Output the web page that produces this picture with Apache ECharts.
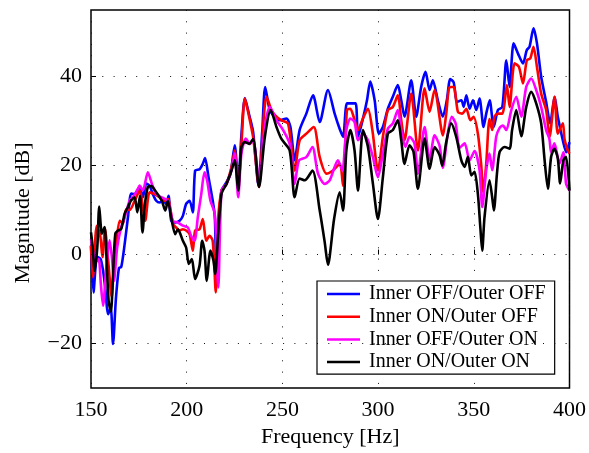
<!DOCTYPE html>
<html>
<head>
<meta charset="utf-8">
<script src="https://cdn.jsdelivr.net/npm/echarts@6/dist/echarts.min.js"></script>
<style>
  html, body { margin: 0; padding: 0; background: #fff; }
  #chart { width: 589px; height: 453px; }
</style>
</head>
<body>
<div id="chart"></div>
<script>
// frequency [Hz] / magnitude [dB], one pair per curve
var blueFreq = [150, 151.3, 153.2, 155, 156.3, 157.3, 159, 160.3, 161.5, 163, 164.6, 165.8, 167.6, 169.3, 171, 172.8, 174.5, 175.4, 177.1, 178.9, 180.6, 182.3, 184.1, 185.8, 187.6, 189.3, 190.5, 191.9, 194, 196.3, 198, 199.7, 201.5, 203.2, 204.4, 206.7, 208.4, 209.6, 211.4, 213.6, 214.7, 215.5, 216.5, 218.2, 220.8, 222.9, 225.1, 226.9, 228.6, 230.4, 232.6, 234.7, 237.5, 239.5, 241, 243.4, 246, 248.6, 252.1, 254.2, 256.4, 259, 262.5, 266, 269.5, 273.8, 277.3, 279.9, 281.7, 283.7, 286, 288.3, 289.5, 292.1, 294.2, 295.9, 298.2, 300.4, 302.5, 305.1, 307.7, 310.3, 312.1, 313.8, 317.3, 319.9, 322.5, 324.8, 326.9, 328.6, 331.2, 333.8, 335.9, 337.7, 339.5, 341.2, 343.5, 344.7, 346.1, 347.8, 349.6, 351.3, 353, 355.1, 356.5, 358.3, 360.4, 362.6, 364.9, 367, 368.7, 370.8, 373.1, 375.7, 377.7, 379.1, 381.2, 383, 385.2, 387.8, 389.9, 392.2, 393.9, 396.5, 398.3, 400];
var blueMag = [2, -8.5, -0.5, -1, -3.6, -7, -13.4, -11.9, -20.1, -10, -3, -2.8, 2.4, 8.4, 13.7, 13.6, 14.6, 15.1, 12.9, 16, 15.5, 13.6, 12.1, 11.7, 12.1, 11.4, 13.2, 7.6, 7.2, 7.6, 8.7, 11.4, 12.1, 9.5, 18.9, 19.2, 20.4, 21.7, 17.4, 12.1, 8.4, -4, 6, 14.4, 16.3, 18.2, 24.6, 16, 27, 35.2, 31.5, 27.6, 15.5, 28, 37.7, 32.5, 31, 30.2, 30.6, 28.7, 21.2, 28, 31.7, 35.8, 29.8, 37, 31.7, 28.3, 26.5, 34, 34, 34, 26.5, 30.6, 34.7, 38.9, 34.7, 27.2, 28.7, 32.8, 35.5, 38.1, 34.7, 31, 39.2, 31, 37.7, 41.1, 37, 39.2, 34.7, 31, 34.7, 39.5, 38.7, 34.3, 34.7, 33.2, 35.8, 32.8, 34.7, 32.5, 35.1, 28.7, 31.7, 34.7, 28.7, 32.5, 33.2, 43.7, 37.7, 47.5, 45.2, 43, 46, 46.7, 50.9, 47.5, 40, 34.3, 29.5, 35.5, 31, 25.7, 23, 25.3];

var redFreq = [150, 151, 153, 154.8, 156, 157.3, 159, 160.8, 161.8, 163.2, 165, 166.7, 168.4, 170.2, 172.8, 175.4, 178.3, 180.6, 183.2, 185.8, 188.4, 190.2, 192.8, 194.5, 196.3, 198, 199.7, 201.5, 203.2, 204.4, 206.7, 208.4, 210.2, 211.9, 213.6, 215.2, 216.4, 218.2, 220.8, 223.4, 225.1, 226.9, 228.6, 230.4, 232.6, 234.7, 237.8, 239.9, 241.7, 244.3, 246.9, 249.5, 253, 256.4, 259, 262.5, 266.4, 269.5, 273, 276.4, 279.9, 281.7, 283.7, 285.5, 287.2, 289.5, 291.7, 294.7, 297, 299.9, 302.5, 305.1, 307.7, 310.3, 312.1, 313.8, 317.3, 320.8, 324.3, 326.9, 329.5, 333.9, 335.6, 337.4, 339.5, 341.7, 344, 346.1, 348.2, 349.9, 352.2, 353.9, 355, 356.5, 358.2, 359.6, 360.8, 362.6, 364.9, 367.3, 368.7, 371.3, 373.6, 375.7, 377.7, 379.5, 381.2, 383, 385.2, 387.8, 389.6, 392.2, 393.9, 396.5, 397.4, 399.1, 400];
var redMag = [2, -5.1, 6.5, 4.3, -0.6, 5.8, -1.5, -9.5, -4, 2.4, 7.6, 7, 10.2, 10, 12.1, 14.4, 7.6, 14, 13.6, 12.9, 12.1, 12.5, 6.9, 6.1, 5.4, 5.7, 5.4, 4.6, 0.9, 5.4, 5.7, 8, 3.1, 4.2, 3.1, -8.5, 7.6, 14.4, 15.9, 19.7, 23.4, 15.2, 25, 35.1, 31, 26.4, 15.2, 28.7, 35.5, 32.5, 31, 30.2, 29.4, 18.9, 25.7, 27.2, 28.7, 21.9, 18.2, 18.9, 20.4, 15.5, 32.5, 32.8, 31, 28, 30.2, 32.8, 28, 18.9, 26.5, 32.5, 33.2, 35.8, 30.2, 25.7, 36.2, 23.4, 37.4, 32.1, 37, 26.8, 31.7, 37.7, 37.7, 32.1, 31.7, 32.8, 30.2, 31, 27, 20, 14, 20.5, 30.5, 28, 31, 31.7, 31.7, 38.1, 33.2, 43, 42.2, 38.5, 43.7, 44.1, 46.7, 42.2, 36.2, 32.5, 26.5, 35.5, 27.2, 29.5, 26, 23.4, 22.7];

var magentaFreq = [150, 151, 152.5, 154, 155.2, 156.3, 158, 159.7, 161, 162, 163.7, 165.8, 168.4, 170.2, 171.9, 174.5, 175.4, 177.1, 179.7, 181.8, 184.1, 186.7, 190.2, 192.8, 195.4, 198, 200.6, 202.3, 204.1, 205.8, 207.6, 209.3, 210.7, 212.4, 214.5, 215.3, 216.5, 218.2, 220.8, 223.4, 225.1, 226.9, 228.6, 230.9, 233, 234.7, 237.8, 240.8, 243.4, 246.9, 250.4, 253.8, 256.4, 258.7, 262.5, 265.7, 268.6, 272.1, 274.7, 277.3, 279, 281.3, 283.4, 285.5, 287.7, 289.5, 292.1, 294.7, 297.3, 299.9, 302.5, 305.1, 307.7, 310.3, 312.1, 314.3, 316.4, 319, 320.8, 324.3, 326.9, 329.5, 332.1, 333.8, 336.4, 338.5, 340.5, 342.6, 345.2, 347.8, 350.4, 353, 354.4, 356.5, 358.2, 359.6, 361.7, 363.5, 365.2, 367, 369.6, 372.2, 374.8, 377.4, 380, 382.6, 385.2, 387.8, 389.5, 390.4, 392.1, 394.8, 396.8, 398.2, 400];
var magentaMag = [3.5, 0.9, -1.5, -1, -7, -11.5, -2.8, 3.2, -1, -5.9, 1.7, 6.2, 9.5, 12.2, 12.9, 14.8, 15.5, 14.4, 18.5, 15.9, 13.6, 12.9, 12.1, 7.6, 7.2, 6.5, 6.1, 4.2, 3.1, 8.4, 13.6, 18.5, 16.6, 12.1, 9.5, 5, -7.4, 14.4, 15.9, 19, 22.7, 12.9, 22.7, 26.1, 24.9, 25.7, 16.7, 28.7, 33.2, 30.2, 28, 24.9, 15.9, 21.2, 21.9, 24.2, 18.2, 15.9, 16.7, 19.7, 21.2, 18.9, 28, 30.6, 29.8, 25.7, 27.2, 25.7, 21.9, 17.4, 22.7, 28.3, 29.5, 32.5, 28, 24.2, 26.5, 25, 18.2, 28.7, 21.2, 26.8, 24.5, 19.5, 27.2, 31, 29.5, 24, 25, 21.2, 23.3, 19, 10.7, 19, 22.7, 19, 26.5, 28.5, 29, 28, 32.5, 35.5, 31, 37.7, 39.6, 37, 33.2, 28, 26, 23, 25, 20.5, 23, 16, 14.4];

var blackFreq = [150, 150.8, 151.9, 153.3, 154.3, 155.7, 157.1, 158, 159.2, 160.4, 161.5, 162.7, 164.1, 165.8, 167.6, 169.3, 171, 172.8, 174.2, 175.6, 176.9, 178.2, 179.7, 181.5, 184.1, 187, 188.8, 190.2, 191.9, 194, 195.4, 198, 199.7, 201.1, 202.7, 204.4, 206.7, 208.1, 209.3, 210.5, 212.4, 214, 214.9, 216.5, 218.2, 220.8, 223.4, 225.1, 226.9, 228.6, 230.4, 232.6, 234.7, 237.8, 240.8, 243.9, 246.9, 249.5, 253.8, 256.4, 259, 261.7, 265.7, 269.5, 272.1, 273.8, 277, 279.9, 281.7, 283.4, 285.5, 287.7, 289.5, 292.1, 294.7, 297.3, 299.9, 302.5, 305.1, 307.7, 310.3, 312.1, 313.8, 316.4, 318.5, 320.8, 324.3, 326.9, 329.5, 332.1, 333.5, 335.6, 338.2, 340.8, 343.5, 345.2, 346.9, 348.7, 350.4, 352.2, 353.4, 354.4, 355.6, 358.2, 359.6, 360.5, 362.1, 363.5, 366.1, 368.7, 370, 372.2, 374.8, 377.4, 380, 382.6, 385.2, 387, 388.7, 390.4, 392.1, 393.9, 395.1, 396.8, 398.2, 400];
var blackMag = [5, 2, -3.6, 1.7, 10.8, 4.7, 6.2, 0.2, -10.4, -12.8, -4.4, 4.7, 5.4, 5.8, 9.2, 10.7, 12.2, 12.9, 9.5, 13.2, 5, 11.4, 15.2, 15.4, 14, 12.1, 9.9, 12.1, 8.4, 4.6, 5.7, 3.1, 1.6, -2.1, -1, -5.5, -2.5, 3.1, 0.9, -5.9, 0.9, -1.4, -4.4, 5, 13.7, 15.9, 18.9, 21.2, 14.4, 24.2, 25.3, 24.9, 26, 15.2, 26.4, 32.5, 28.7, 26, 23.4, 12.9, 17.1, 16.7, 18.9, 9.9, 2.8, -2.3, 8, 14, 9.9, 23.4, 28, 23.4, 14.4, 28, 24.2, 15.9, 8, 17.4, 27.2, 28, 30.2, 25.7, 20.4, 24.6, 23.1, 14.8, 26.1, 19.3, 24.2, 22.4, 20, 25.3, 29.5, 26.5, 21.2, 19.7, 22, 17.8, 18.6, 13.3, 6.2, 0.9, 8.4, 16.7, 12.9, 9.9, 18.2, 23.1, 24.2, 23.8, 28, 32.5, 26.6, 33.2, 36.6, 34, 29.5, 21.2, 14.8, 22, 23.8, 21.6, 16, 21.2, 22, 14.4];

var seriesNames = ['Inner OFF/Outer OFF', 'Inner ON/Outer OFF', 'Inner OFF/Outer ON', 'Inner ON/Outer ON'];
var yTicks = [-20, 0, 20, 40];
var xTicks = [150, 200, 250, 300, 350, 400];

function pairs(fs, ms) {
    return fs.map(function (f, i) { return [f, ms[i]]; });
}

var chart = echarts.init(document.getElementById('chart'));
var font = 'Liberation Serif';

function curve(name, color, fs, ms, extra) {
    var s = {
        name: name,
        type: 'line',
        data: pairs(fs, ms),
        symbol: 'none',
        smooth: 0.25,
        animation: false,
        lineStyle: { color: color, width: 2.6 },
        itemStyle: { color: color }
    };
    if (extra) Object.assign(s, extra);
    return s;
}

var option = {
    backgroundColor: '#ffffff',
    textStyle: { fontFamily: font },
    grid: {
        left: 91, right: 19, top: 10, bottom: 65,
        show: true, borderColor: '#000', borderWidth: 1.5, backgroundColor: '#fff'
    },
    legend: {
        orient: 'vertical',
        left: 317, top: 281,
        padding: [3, 9, 2, 10],
        itemGap: 2.7,
        icon: 'rect',
        itemWidth: 33, itemHeight: 2.5,
        backgroundColor: '#fff',
        borderColor: '#000', borderWidth: 1.2, borderRadius: 0,
        textStyle: { fontFamily: font, fontSize: 20, color: '#000', lineHeight: 20, padding: [0, 0, 0, 4] },
        data: seriesNames
    },
    xAxis: {
        type: 'value',
        min: 150, max: 400, interval: 50,
        name: 'Frequency [Hz]',
        nameLocation: 'middle', nameGap: 38,
        nameTextStyle: { fontFamily: font, fontSize: 22, color: '#000' },
        axisLine: { show: false },
        axisTick: { show: true, inside: true, length: 5, lineStyle: { color: '#000' } },
        axisLabel: { fontFamily: font, fontSize: 22, color: '#000', margin: 11 },
        splitLine: { show: true, lineStyle: { color: '#111', width: 1, type: [1, 10.3] } }
    },
    yAxis: {
        type: 'value',
        min: -30, max: 55, interval: 10,
        name: 'Magnitude [dB]',
        nameLocation: 'middle', nameGap: 57, nameRotate: 90,
        nameTextStyle: { fontFamily: font, fontSize: 22, color: '#000', padding: [0, 28, 0, 0] },
        axisLine: { show: false },
        axisTick: { show: true, inside: true, length: 5, customValues: yTicks, lineStyle: { color: '#000' } },
        axisLabel: {
            fontFamily: font, fontSize: 22, color: '#000', margin: 9,
            customValues: yTicks,
            formatter: function (v) { return v % 20 === 0 ? String(v).replace('-', '\u2212') : ''; }
        },
        splitLine: { show: false }
    },
    series: [
        curve(seriesNames[0], '#0000ff', blueFreq, blueMag, {
            markLine: {
                silent: true, symbol: 'none', animation: false,
                label: { show: false },
                lineStyle: { color: '#111', width: 1, type: [1, 10.3] },
                data: yTicks.map(function (v) { return { yAxis: v }; })
            }
        }),
        curve(seriesNames[1], '#ff0000', redFreq, redMag),
        curve(seriesNames[2], '#ff00ff', magentaFreq, magentaMag),
        curve(seriesNames[3], '#000000', blackFreq, blackMag)
    ]
};
chart.setOption(option);
</script>
</body>
</html>
